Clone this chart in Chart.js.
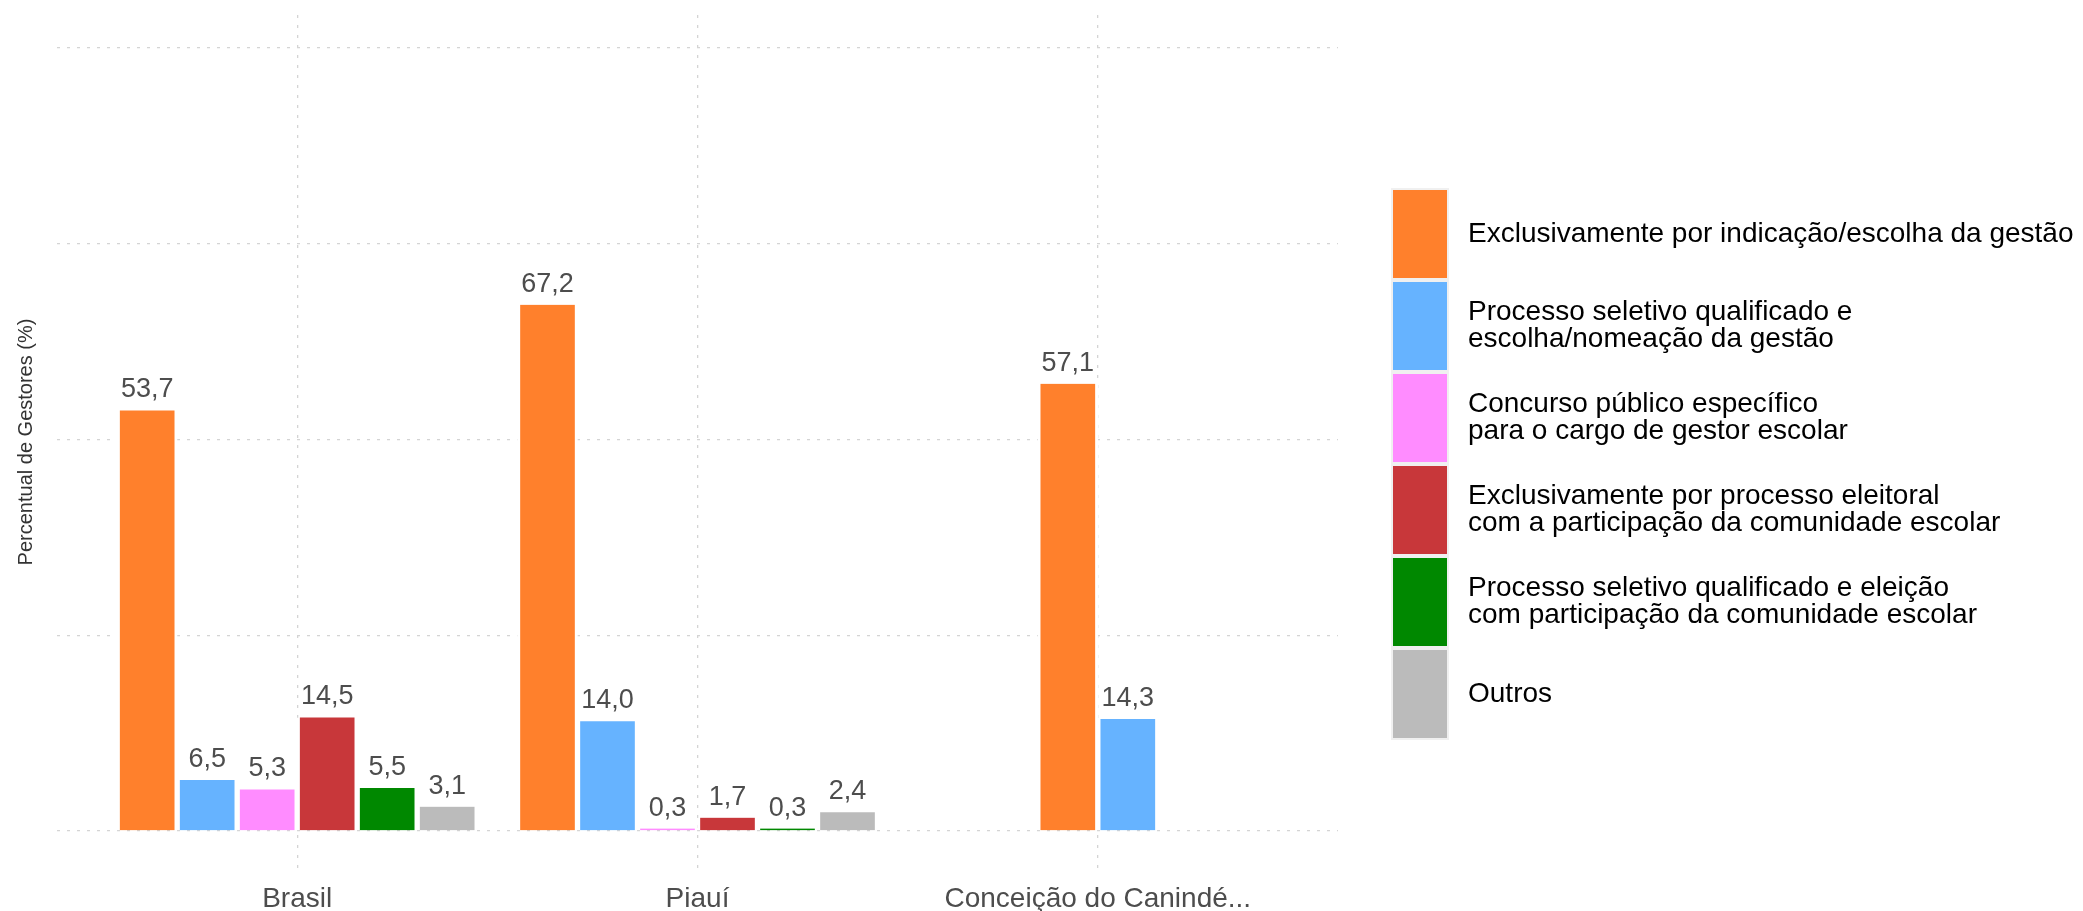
<!DOCTYPE html>
<html lang="pt-BR">
<head>
  <meta charset="UTF-8">
  <title>Percentual de Gestores</title>
  <script src="https://cdn.jsdelivr.net/npm/chart.js@4.4.1/dist/chart.umd.min.js"></script>
  <style>
    html, body { margin: 0; padding: 0; background: #fff; }
    #wrap { width: 2083px; height: 911px; position: relative; }
  </style>
</head>
<body>
<div id="wrap">
  <canvas id="grafico"></canvas>
</div>
<script>
  // categorias do eixo x
  const categorias = ['Brasil', 'Piauí', 'Conceição do Canindé...'];

  // nomes das séries (quebra de linha como na legenda original)
  const nomesSeries = [
    'Exclusivamente por indicação/escolha da gestão',
    'Processo seletivo qualificado e\nescolha/nomeação da gestão',
    'Concurso público específico\npara o cargo de gestor escolar',
    'Exclusivamente por processo eleitoral\ncom a participação da comunidade escolar',
    'Processo seletivo qualificado e eleição\ncom participação da comunidade escolar',
    'Outros'
  ];
  const coresSeries = ['#FF802C', '#66B3FF', '#FF8CFF', '#C8373A', '#008800', '#BBBBBB'];

  // valores (%) por série, na ordem das categorias
  const indicacao       = [53.7, 67.2, 57.1];
  const seletivoGestao  = [6.5, 14.0, 14.3];
  const concurso        = [5.3, 0.3, null];
  const eleitoral       = [14.5, 1.7, null];
  const seletivoEleicao = [5.5, 0.3, null];
  const outros          = [3.1, 2.4, null];
  const valores = [indicacao, seletivoGestao, concurso, eleitoral, seletivoEleicao, outros];

  // ticks (só para as linhas de grade, sem rótulos)
  const ticksY = [0, 25, 50, 75, 100];

  const fonte = 'Liberation Sans, Arial, Helvetica, sans-serif';
  const fmt = v => v.toFixed(1).replace('.', ',');

  // rótulos de valor em cima das barras
  const rotulosBarras = {
    id: 'rotulosBarras',
    afterDatasetsDraw(chart) {
      const ctx = chart.ctx;
      ctx.save();
      ctx.font = '27px ' + fonte;
      ctx.fillStyle = '#4d4d4d';
      ctx.textAlign = 'center';
      ctx.textBaseline = 'alphabetic';
      chart.data.datasets.forEach((ds, i) => {
        const meta = chart.getDatasetMeta(i);
        meta.data.forEach((bar, j) => {
          const v = ds.data[j].y;
          if (v === null) return;
          ctx.fillText(fmt(v), bar.x, bar.y - 13);
        });
      });
      ctx.restore();
    }
  };

  // legenda à direita, com textos em duas linhas
  const legendaDireita = {
    id: 'legendaDireita',
    afterDraw(chart) {
      const ctx = chart.ctx;
      const x0 = 1393, y0 = 190, w = 54, h = 88, passo = 92;
      ctx.save();
      ctx.font = '28px ' + fonte;
      ctx.textAlign = 'left';
      ctx.textBaseline = 'middle';
      nomesSeries.forEach((nome, i) => {
        const top = y0 + i * passo;
        ctx.fillStyle = '#f0f0f0';
        ctx.fillRect(x0 - 2, top - 2, w + 4, h + 4);
        ctx.fillStyle = coresSeries[i];
        ctx.fillRect(x0, top, w, h);
        const linhas = nome.split('\n');
        const lh = 27;
        const cy = top + h / 2 - (linhas.length - 1) * lh / 2;
        ctx.fillStyle = '#000';
        linhas.forEach((l, k) => ctx.fillText(l, 1468, cy + k * lh));
      });
      ctx.restore();
    }
  };

  const grade = {
    color: '#d4d4d4',
    lineWidth: 1.3,
    drawTicks: false,
    offset: false
  };

  new Chart(document.getElementById('grafico'), {
    type: 'bar',
    data: {
      datasets: valores.map((serie, i) => ({
        label: nomesSeries[i],
        data: serie.map((v, j) => ({ x: j, y: v })),
        backgroundColor: coresSeries[i],
        borderColor: '#ffffff',
        borderWidth: { left: 3, right: 3, top: 0, bottom: 0 },
        borderSkipped: 'start',
        barThickness: 60,
        skipNull: true
      }))
    },
    options: {
      responsive: true,
      maintainAspectRatio: false,
      animation: false,
      layout: { padding: { left: 0, right: 745, top: 15, bottom: 0 } },
      plugins: {
        legend: { display: false },
        tooltip: { enabled: false }
      },
      scales: {
        x: {
          type: 'linear',
          min: -0.6,
          max: 2.6,
          offset: false,
          border: { display: false, dash: [3, 7] },
          grid: grade,
          afterBuildTicks: s => { s.ticks = categorias.map((c, i) => ({ value: i })); },
          afterFit: s => { s.height = 42; },
          ticks: {
            autoSkip: false,
            maxRotation: 0,
            padding: 13,
            color: '#4d4d4d',
            font: { family: fonte, size: 28 },
            callback: v => categorias[v]
          }
        },
        y: {
          min: -4.86,
          max: 104.2,
          border: { display: false, dash: [3, 7] },
          grid: grade,
          afterBuildTicks: s => { s.ticks = ticksY.map(v => ({ value: v })); },
          afterFit: s => { s.width = 57; },
          ticks: { display: false },
          title: {
            display: true,
            text: 'Percentual de Gestores (%)',
            color: '#333',
            font: { family: fonte, size: 20 },
            padding: { top: 14, bottom: 0 }
          }
        }
      }
    },
    plugins: [rotulosBarras, legendaDireita]
  });
</script>
</body>
</html>
